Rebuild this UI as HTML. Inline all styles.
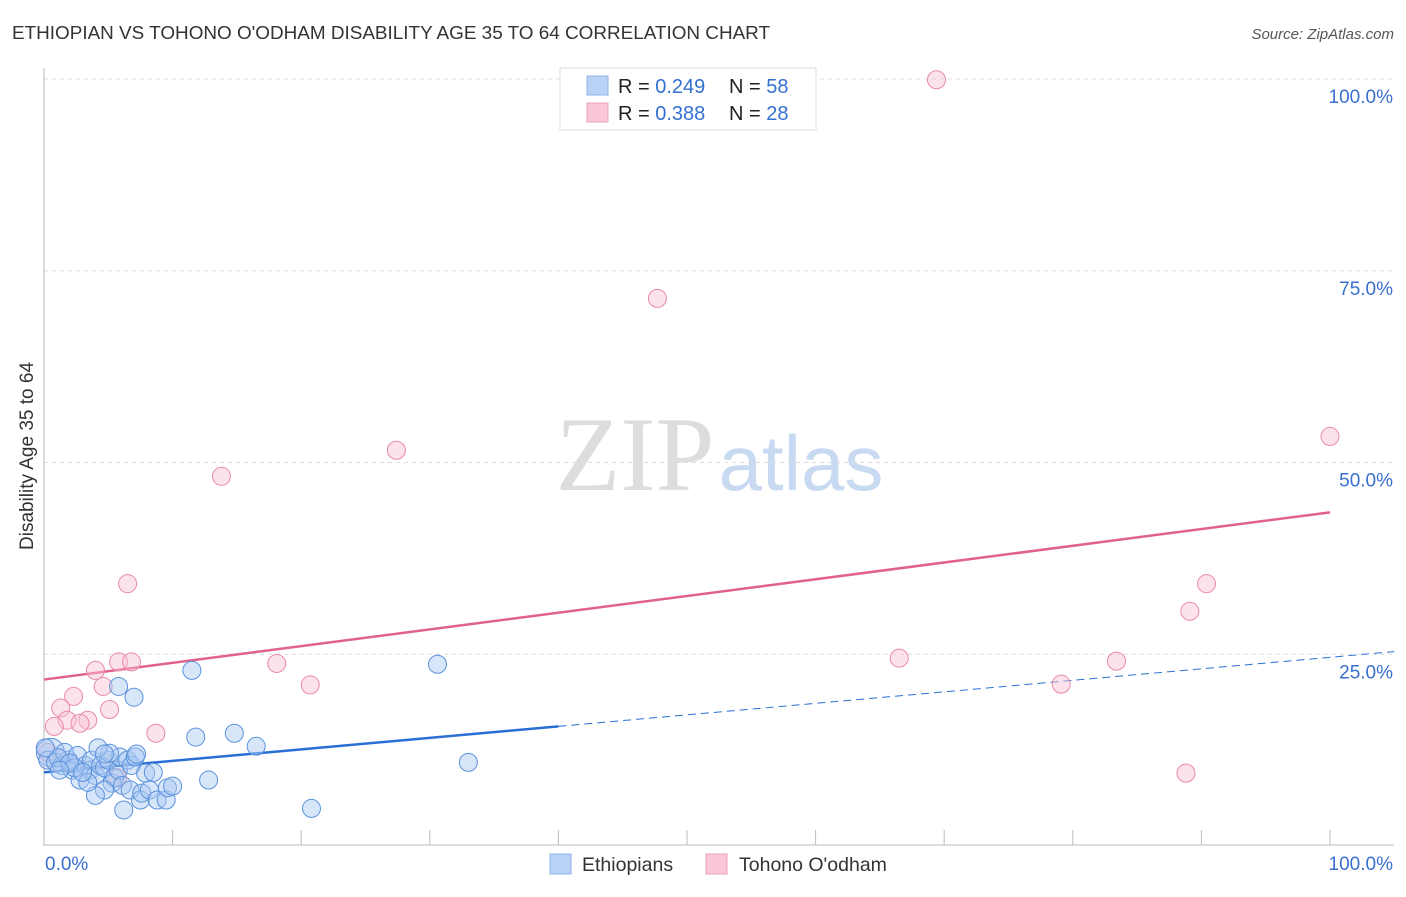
<!DOCTYPE html>
<html><head><meta charset="utf-8"><style>
body{margin:0;background:#fff;font-family:"Liberation Sans",sans-serif;}
</style></head><body>
<svg id="chart" width="1406" height="892" xmlns="http://www.w3.org/2000/svg" font-family="Liberation Sans, sans-serif">
<text x="12" y="39" font-size="18.9" fill="#333">ETHIOPIAN VS TOHONO O'ODHAM DISABILITY AGE 35 TO 64 CORRELATION CHART</text>
<text x="1394" y="39" font-size="15" font-style="italic" fill="#555" text-anchor="end">Source: ZipAtlas.com</text>
<text transform="translate(33,456) rotate(-90)" font-size="19" fill="#333" text-anchor="middle">Disability Age 35 to 64</text>
<g>
<text x="635" y="490" font-size="106" font-family="Liberation Serif, serif" fill="#ddd" text-anchor="middle">ZIP</text>
<text x="801" y="490" font-size="78" fill="#c8d9f2" text-anchor="middle">atlas</text>
</g>
<g id="grid"></g>
<g id="axes"></g>
<g id="trend"></g>
<g id="points"></g>
<g>
<rect x="560" y="68" width="256" height="62" fill="#fff" stroke="#ddd"/>
<rect x="587" y="76" width="21" height="19" fill="#b8d2f5" stroke="#8fb3e8"/>
<rect x="587" y="103" width="21" height="19" fill="#f9c7d6" stroke="#eda2bb"/>
<text x="618" y="93" font-size="20" fill="#222">R = <tspan fill="#3370d0">0.249</tspan></text>
<text x="729" y="93" font-size="20" fill="#222">N = <tspan fill="#3370d0">58</tspan></text>
<text x="618" y="120" font-size="20" fill="#222">R = <tspan fill="#3370d0">0.388</tspan></text>
<text x="729" y="120" font-size="20" fill="#222">N = <tspan fill="#3370d0">28</tspan></text>
</g>
<g>
<rect x="550" y="854" width="21" height="20" fill="#b8d2f5" stroke="#8fb3e8"/>
<text x="582" y="871" font-size="19.5" fill="#333">Ethiopians</text>
<rect x="706" y="854" width="21" height="20" fill="#f9c7d6" stroke="#eda2bb"/>
<text x="739" y="871" font-size="19.5" fill="#333">Tohono O'odham</text>
</g>
</svg>
<script>
const yTicks=[25,50,75,100];
const yTickLabels=["25.0%","50.0%","75.0%","100.0%"];
const xTickLabels=["0.0%","100.0%"];
const blueX=[0.5,0.3,0.9,1.4,1.9,1.6,2.2,2.6,2.8,3.2,3.6,3.7,4.0,4.4,4.7,5.0,5.3,5.5,5.8,5.9,6.1,6.2,6.5,6.7,6.8,7.1,7.5,7.6,7.9,8.2,8.5,8.8,9.5,9.6,10.0,5.8,7.0,11.5,11.8,12.8,14.8,16.5,20.8,30.6,33.0,4.7,4.0,3.4,2.4,1.1,5.1,4.2,2.0,3.0,1.2,4.7,7.2,0.1];
const blueY=[12.2,11.2,10.9,10.5,11.2,12.2,9.9,11.8,8.6,10.5,9.9,11.2,9.2,10.5,10.2,11.2,8.2,8.9,9.9,11.6,7.9,4.7,11.2,7.3,10.5,11.6,6.0,6.9,9.5,7.3,9.6,6.0,6.0,7.6,7.8,20.8,19.4,22.9,14.2,8.6,14.7,13.0,4.9,23.7,10.9,7.3,6.6,8.3,10.2,11.5,12.1,12.8,10.8,9.6,9.9,12.0,12.0,12.8];
const pinkX=[69.4,47.7,27.4,13.8,100,6.5,90.4,89.1,5.8,6.8,4.0,18.1,66.5,83.4,4.6,20.7,79.1,2.3,1.3,5.1,1.8,3.4,2.8,0.8,8.7,5.7,88.8,0.3];
const pinkY=[99.9,71.4,51.6,48.2,53.4,34.2,34.2,30.6,24.0,24.0,22.9,23.8,24.5,24.1,20.8,21.0,21.1,19.5,18.0,17.8,16.4,16.4,16.0,15.6,14.7,8.9,9.5,12.2];
const blueTrend=[9.6,15.0];
const pinkTrend=[21.7,21.8];
const blueSolidEnd=40;
const NS="http://www.w3.org/2000/svg";
const X0=44,X1=1330,Y0=846,Y100=79;
const sx=v=>X0+(X1-X0)*v/100;
const sy=v=>Y0-(Y0-Y100)*v/100;
function mk(tag,attrs,parent){const e=document.createElementNS(NS,tag);for(const k in attrs)e.setAttribute(k,attrs[k]);document.getElementById(parent).appendChild(e);return e;}
yTicks.forEach((t,i)=>{
 const l=mk('line',{x1:44,x2:1394,y1:sy(t),y2:sy(t),stroke:'#ddd','stroke-dasharray':'4,4'},'grid');
 
 
 const tx=mk('text',{x:1393,y:sy(t)+24,'font-size':19,fill:'#3a6fd0','text-anchor':'end'},'grid');
 tx.textContent=yTickLabels[i];
 
 
});
let a=mk('line',{x1:44,x2:44,y1:68,y2:846,stroke:'#bbb'},'axes');


a=mk('line',{x1:44,x2:1394,y1:845,y2:845,stroke:'#bbb'},'axes');


for(let i=1;i<=10;i++){const t=mk('line',{x1:sx(i*10),x2:sx(i*10),y1:830,y2:845,stroke:'#bbb'},'axes');
 
 }
[[0,'start',45],[100,'end',1393]].forEach((p,i)=>{const t=mk('text',{x:p[2],y:870,'font-size':19,fill:'#3a6fd0','text-anchor':p[1]},'axes');t.textContent=xTickLabels[i];
 
 });
function pts(xs,ys,fill,stroke,name){xs.forEach((x,i)=>{const c=mk('circle',{cx:sx(x),cy:sy(ys[i]),r:(i==0&&name=='ethiopian-point')?14:9,fill:fill,'fill-opacity':0.45,stroke:stroke,'stroke-width':1},'points');
 
 });}
pts(pinkX,pinkY,'#f9c2d3','#e889a8','tohono-point');
pts(blueX,blueY,'#a9c8f2','#5b92dc','ethiopian-point');
const tv=(t,x)=>t[0]+t[1]*x/100;
let l=mk('line',{x1:sx(0),y1:sy(tv(pinkTrend,0)),x2:sx(100),y2:sy(tv(pinkTrend,100)),stroke:'#e0628c','stroke-width':2.5},'trend');


l=mk('line',{x1:sx(0),y1:sy(tv(blueTrend,0)),x2:sx(blueSolidEnd),y2:sy(tv(blueTrend,blueSolidEnd)),stroke:'#2a6fd6','stroke-width':2.5},'trend');


l=mk('line',{x1:sx(blueSolidEnd),y1:sy(tv(blueTrend,blueSolidEnd)),x2:sx(105),y2:sy(tv(blueTrend,105)),stroke:'#2a6fd6','stroke-width':1,'stroke-dasharray':'8,5'},'trend');


</script>
</body></html>
